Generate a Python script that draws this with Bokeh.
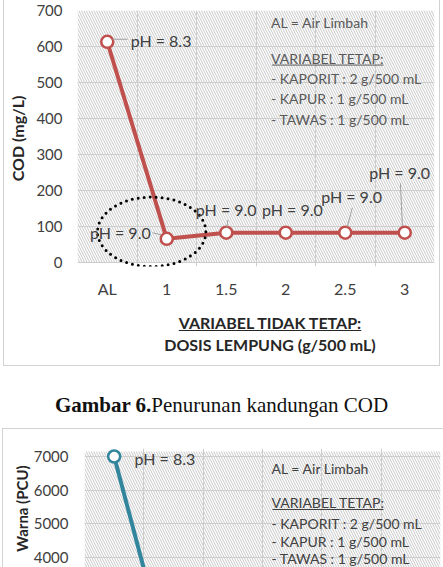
from bokeh.plotting import figure
from bokeh.models import FixedTicker, Label, BoxAnnotation, Div
from bokeh.layouts import column, row
from bokeh.embed import file_html
from bokeh.resources import INLINE

# ---------------- data ----------------
categories = ["AL", "1", "1.5", "2", "2.5", "3"]
cod_values = [613, 65, 82, 82, 82, 82]
cod_ph = ["pH = 8.3", "pH = 9.0", "pH = 9.0", "pH = 9.0", "pH = 9.0", "pH = 9.0"]
cod_ticks = [0, 100, 200, 300, 400, 500, 600, 700]

color_categories = ["AL", "1"]
color_values = [7000, 300]
color_ph = ["pH = 8.3"]
color_ticks = [4000, 5000, 6000, 7000]

fixed_notes = ["AL = Air Limbah", "VARIABEL TETAP:", "- KAPORIT : 2 g/500 mL",
               "- KAPUR : 1 g/500 mL", "- TAWAS : 1 g/500 mL"]
x_title = ["VARIABEL TIDAK TETAP:", "DOSIS LEMPUNG (g/500 mL)"]
y_title_cod = "COD (mg/L)"
y_title_color = "Warna (PCU)"
caption_bold = "Gambar 6."
caption_text = "Penurunan kandungan COD"

FONT = "Lato"
RED = "#C0504D"
TEAL = "#31859C"
GRID = "#cdcdcd"
HATCH = "#c8c8c8"
TXT = "#404040"
NOTE = "#595959"
BORDER = "#d2d2d2"
BLINE = f"1px solid {BORDER}"

def style_axis(ax, size="15px"):
    ax.axis_line_color = None
    ax.major_tick_line_color = None
    ax.minor_tick_line_color = None
    ax.major_tick_in = 0
    ax.major_tick_out = 0
    ax.major_label_text_font = FONT
    ax.major_label_text_font_size = size
    ax.major_label_text_color = TXT

# ---------------- chart 1 (COD) ----------------
W1, H1 = 437, 300
L1, R1, T1, B1 = 73, 7, 10, 32
F1L, F1R = 77, 433        # expected page px of the plot frame edges
Y0, Y1 = -12, 700
p1 = figure(width=W1, height=H1, x_range=(0, len(categories)), y_range=(Y0, Y1),
            output_backend="svg", toolbar_location=None,
            min_border_left=L1, min_border_right=R1, min_border_top=T1, min_border_bottom=B1,
            margin=(0, 0, 0, 3))
p1.styles = {"border-left": BLINE, "border-right": BLINE, "box-sizing": "border-box"}
p1.outline_line_color = None

fh1 = H1 - T1 - B1
def px1(ax):  # page px -> data x (chart 1)
    return (ax - F1L) / (F1R - F1L) * len(categories)
def py1(ay):
    return Y1 - (ay - T1) / fh1 * (Y1 - Y0)

xs1 = [i + 0.5 for i in range(len(categories))]

p1.add_layout(BoxAnnotation(bottom=0, fill_color="white", fill_alpha=1, line_color=None,
                            hatch_pattern="\\", hatch_color=HATCH, hatch_scale=5,
                            hatch_weight=1, level="image"))
p1.xgrid.ticker = FixedTicker(ticks=list(range(1, len(categories))))
p1.ygrid.ticker = FixedTicker(ticks=cod_ticks)
p1.grid.grid_line_color = GRID

p1.xaxis.ticker = FixedTicker(ticks=xs1)
p1.xaxis.major_label_overrides = {x: c for x, c in zip(xs1, categories)}
p1.yaxis.ticker = FixedTicker(ticks=cod_ticks)
style_axis(p1.xaxis[0], "16px")
style_axis(p1.yaxis[0])
p1.xaxis.major_label_standoff = 12
p1.yaxis.major_label_standoff = 15
p1.yaxis.axis_label = y_title_cod
p1.yaxis.axis_label_text_font = FONT
p1.yaxis.axis_label_text_font_size = "16px"
p1.yaxis.axis_label_text_font_style = "bold"
p1.yaxis.axis_label_text_color = "#262626"
p1.yaxis.axis_label_standoff = 6

p1.line(xs1, cod_values, line_color=RED, line_width=4)
p1.scatter(xs1, cod_values, marker="circle", size=12, fill_color="white",
           line_color=RED, line_width=2.5)

# dotted ellipse around the first treated point
p1.ellipse(x=[px1(151)], y=[py1(233)], width=108 / (F1R - F1L) * len(categories),
           height=70 / fh1 * (Y1 - Y0), fill_color=None, line_color="black",
           line_width=3, line_dash="0 6", line_cap="round")

# label leader lines
leaders1 = [((112, 39), (127, 39)), ((152, 234), (160, 236)), ((227, 221), (226, 229)),
            ((351, 209), (346, 228)), ((399, 184), (401, 227))]
p1.segment(x0=[px1(a[0]) for a, b in leaders1], y0=[py1(a[1]) for a, b in leaders1],
           x1=[px1(b[0]) for a, b in leaders1], y1=[py1(b[1]) for a, b in leaders1],
           line_color="#a0a0a0", line_width=1)

ph_pos1 = [(130, 40, "left"), (150, 234, "right"), (195, 211, "left"),
           (261, 211, "left"), (320, 197, "left"), (368, 173, "left")]
for t, (ax_, ay_, al) in zip(cod_ph, ph_pos1):
    p1.add_layout(Label(x=px1(ax_), y=py1(ay_), text=t, text_font=FONT,
                        text_font_size="16px", text_color=TXT, text_align=al,
                        text_baseline="middle"))

note_y1 = [22, 58, 79, 99, 120]
for t, ay_ in zip(fixed_notes, note_y1):
    p1.add_layout(Label(x=px1(270), y=py1(ay_), text=t, text_font=FONT,
                        text_font_size="14px", text_color=NOTE, text_align="left",
                        text_baseline="middle"))
p1.segment(x0=[px1(271)], y0=[py1(65)], x1=[px1(382)], y1=[py1(65)],
           line_color=NOTE, line_width=1)

# x-axis title (two lines, first underlined) inside the chart box
xdiv = Div(text=('<div style="margin-left:95px;width:342px;text-align:center;'
                 f'font-family:{FONT};font-weight:bold;font-size:16px;line-height:22px;'
                 'padding-top:12px;color:#262626">'
                 f'<u>{x_title[0]}</u><br>{x_title[1]}</div>'),
           width=437, height=66, margin=(0, 0, 0, 3),
           styles={"border-left": BLINE, "border-right": BLINE, "border-bottom": BLINE,
                   "box-sizing": "border-box"})

# ---------------- caption ----------------
cap = Div(text=('<div style="text-align:center;font-family:\'Liberation Serif\';font-size:21px;'
                'line-height:24px;padding-top:27px;padding-left:26px;color:#111;width:417px">'
                f'<b>{caption_bold}</b>{caption_text}</div>'),
          width=443, height=62, margin=0)

# ---------------- chart 2 (colour, cut off by the page) ----------------
TOP2 = 428
W2, H2 = 441, 567 - TOP2
L2, R2, T2 = 81, 4, 19
fw2 = W2 - L2 - R2
fh2 = H2 - T2
scale2 = 0.0335           # px per unit
y7000 = 455               # page px of the 7000 grid line
Y2e = 7000 + (y7000 - (TOP2 + T2)) / scale2
Y2s = Y2e - fh2 / scale2
p2 = figure(width=W2, height=H2, x_range=(0, len(categories)), y_range=(Y2s, Y2e),
            output_backend="svg", toolbar_location=None,
            min_border_left=L2, min_border_right=R2, min_border_top=T2, min_border_bottom=0,
            margin=(0, 0, 0, 2))
p2.styles = {"border-left": BLINE, "border-top": BLINE, "box-sizing": "border-box"}
p2.outline_line_color = None
p2.xaxis.visible = False

def px2(ax):
    return (ax - 2 - L2) / fw2 * len(categories)
def py2(ay):
    return 7000 - (ay - y7000) / scale2

p2.add_layout(BoxAnnotation(top=py2(450), fill_color="white", fill_alpha=1,
                            line_color=None, hatch_pattern="\\", hatch_color=HATCH,
                            hatch_scale=5, hatch_weight=1, level="image"))
p2.xgrid.ticker = FixedTicker(ticks=list(range(1, len(categories))))
p2.ygrid.ticker = FixedTicker(ticks=color_ticks)
p2.grid.grid_line_color = GRID
p2.yaxis.ticker = FixedTicker(ticks=color_ticks)
style_axis(p2.yaxis[0])
p2.yaxis.major_label_standoff = 16
p2.yaxis.axis_label = y_title_color
p2.yaxis.axis_label_text_font = FONT
p2.yaxis.axis_label_text_font_size = "15px"
p2.yaxis.axis_label_text_font_style = "bold"
p2.yaxis.axis_label_text_color = "#262626"
p2.yaxis.axis_label_standoff = 0

xs2 = [categories.index(c) + 0.5 for c in color_categories]
p2.line(xs2, color_values, line_color=TEAL, line_width=4)
p2.scatter(xs2, color_values, marker="circle", size=12, fill_color="white",
           line_color=TEAL, line_width=2.5)

p2.add_layout(Label(x=px2(133), y=py2(457), text=color_ph[0], text_font=FONT,
                    text_font_size="16px", text_color=TXT, text_align="left",
                    text_baseline="middle"))
note_y2 = [467, 501, 522, 540, 557]
for t, ay_ in zip(fixed_notes, note_y2):
    p2.add_layout(Label(x=px2(270), y=py2(ay_), text=t, text_font=FONT,
                        text_font_size="14px", text_color=TXT, text_align="left",
                        text_baseline="middle"))
p2.segment(x0=[px2(271)], y0=[py2(508)], x1=[px2(382)], y1=[py2(508)],
           line_color=TXT, line_width=1)

layout = column(p1, xdiv, cap, row(p2, spacing=0), spacing=0)
open("out.html", "w").write(file_html(layout, INLINE))
